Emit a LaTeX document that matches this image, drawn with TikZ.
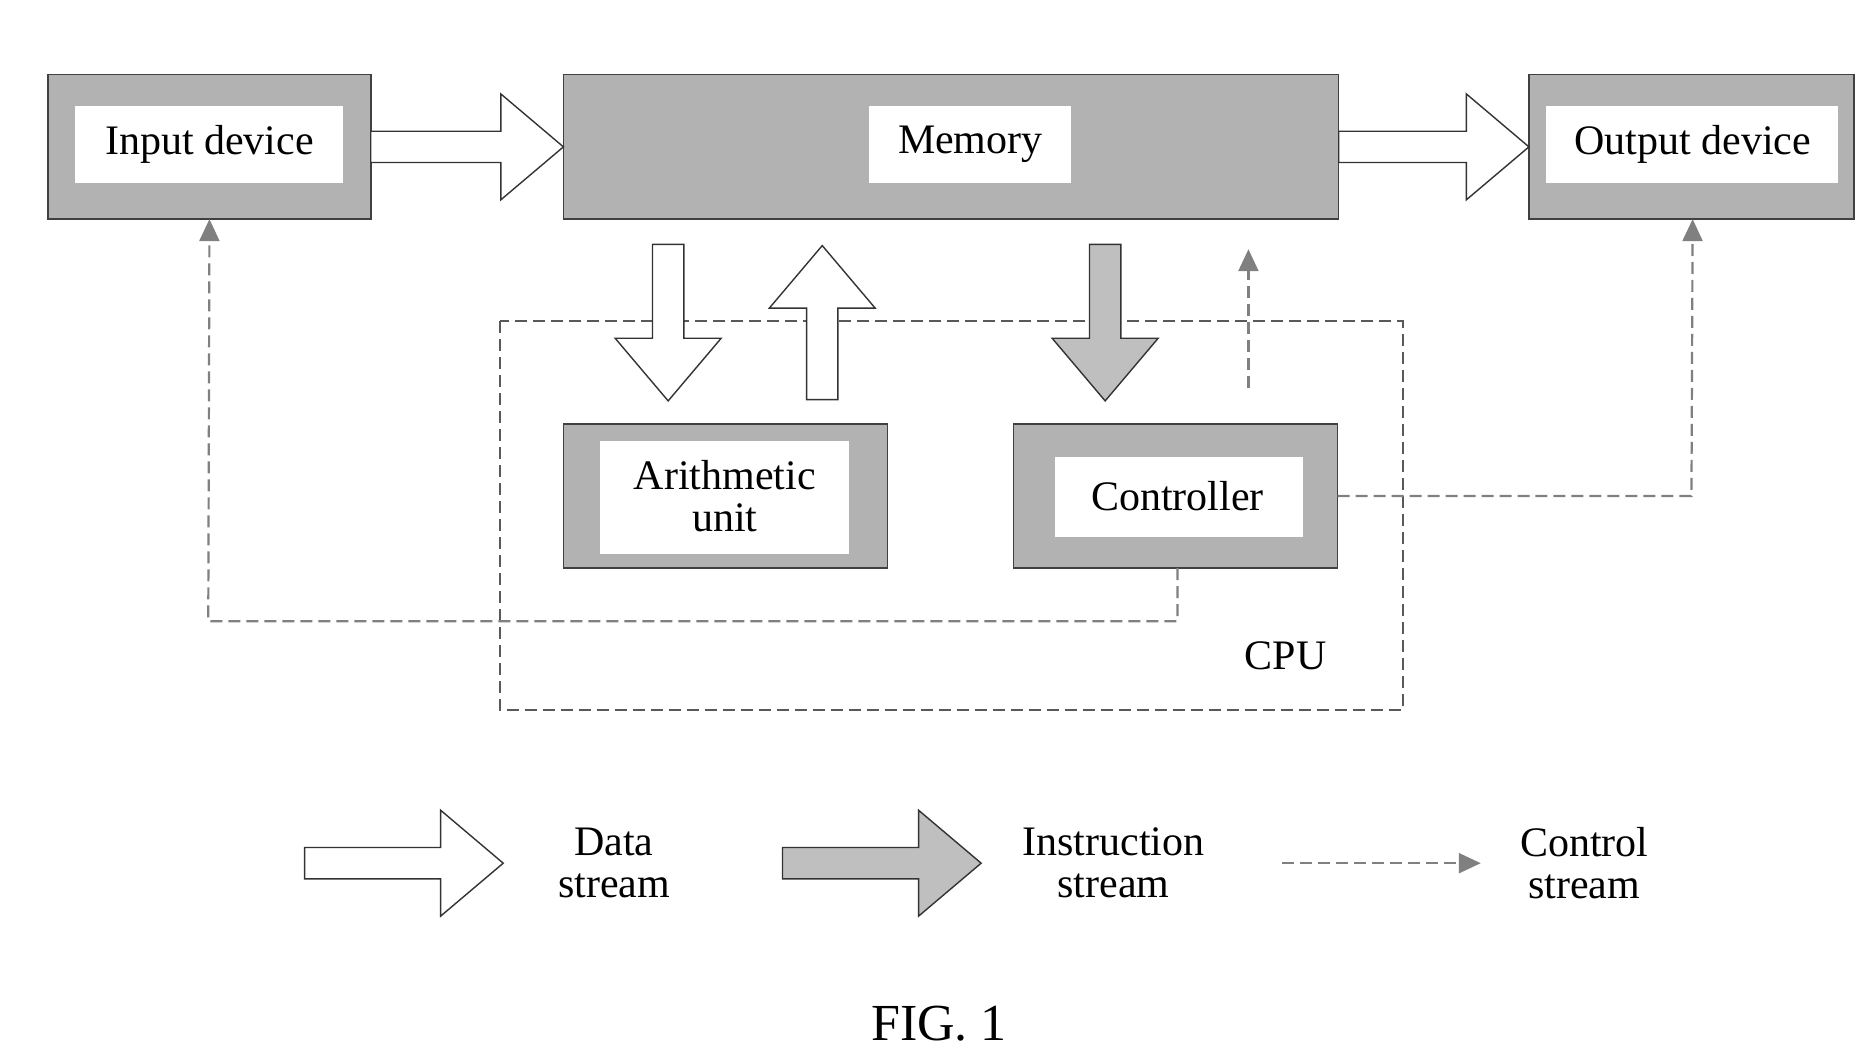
\documentclass[tikz,border=0pt]{standalone}
\usepackage{fontspec}
\setmainfont{Liberation Serif}
\usetikzlibrary{arrows.meta}
\begin{document}
\begin{tikzpicture}[x=1.204pt,y=-1.204pt,
  box/.style={draw=black!75,line width=1.5pt,fill=black!30},
  inner/.style={fill=white,draw=none},
  lab/.style={font=\fontsize{42}{48}\selectfont,align=center},
  data/.style={draw=black!80,line width=1.4pt,fill=white},
  instr/.style={draw=black!80,line width=1.4pt,fill=black!25},
  ctrl/.style={draw=black!50,line width=2.2pt,dash pattern=on 12pt off 6pt},
  ctrltip/.style={-{Triangle[length=22pt,width=20pt,fill=black!50,color=black!50]}}]
\newcommand\fatarrow[4]{%
  \draw[#1,shift={#2},rotate=#3] (0,-13)--(#4-52,-13)--(#4-52,-44)--(#4,0)--(#4-52,44)--(#4-52,13)--(0,13)--cycle;}
\fill[white] (0,0) rectangle (1550,874);
\useasboundingbox (0,0) rectangle (1550,874);
% boxes
\draw[box] (40,62) rectangle (308,182);
\fill[inner] (62,88) rectangle (285,152);
\node[lab] (in) at (174,120) {Input device};
\coordinate (inB) at (174,182);
\draw[box] (468,62) rectangle (1112,182);
\fill[inner] (722,88) rectangle (890,152);
\node[lab] (mem) at (806,120) {Memory};
\draw[box] (1270,62) rectangle (1540,182);
\fill[inner] (1284,88) rectangle (1527,152);
\node[lab] (out) at (1406,120) {Output device};
\coordinate (outB) at (1406,182);
\draw[box] (468,352) rectangle (737,472);
\fill[inner] (498,366) rectangle (705,460);
\node[lab] (alu) at (602,412) {Arithmetic\\[-6pt]unit};
\draw[box] (842,352) rectangle (1111,472);
\fill[inner] (876,380) rectangle (1082,446);
\node[lab] (ctl) at (978,412) {Controller};
\coordinate (ctlB) at (978,472);
\coordinate (ctlR) at (1111,412);
% CPU
\draw[draw=black!65,line width=2pt,dash pattern=on 12pt off 6pt] (415,267) rectangle (1165,590);
\node[lab] (cpu) at (1068,545) {CPU};
% data arrows
\fatarrow{data}{(308,122)}{0}{160}
\fatarrow{data}{(1112,122)}{0}{158}
\fatarrow{data}{(555,203)}{-90}{130}
\fatarrow{data}{(683,332)}{90}{128}
\fatarrow{instr}{(918,203)}{-90}{130}
% control
\draw[ctrl,ctrltip] (1037,322) -- (1037,207);
\draw[ctrl,ctrltip] (ctlB) -- (978,516) -- (173,516) -- (inB);
\draw[ctrl,ctrltip] (ctlR) -- (1405,412) -- (outB);
% legend
\fatarrow{data}{(253,717)}{0}{165}
\node[lab] (l1) at (510,717) {Data\\[-6pt]stream};
\fatarrow{instr}{(650,717)}{0}{165}
\node[lab] (l2) at (925,717) {Instruction\\[-6pt]stream};
\coordinate (c1) at (1065,717); \coordinate (c2) at (1230,717);
\draw[ctrl,ctrltip] (c1) -- (c2);
\node[lab] (l3) at (1316,717) {Control\\[-6pt]stream};
\node[font=\fontsize{52}{58}\selectfont] (fig) at (780,850) {FIG. 1};
\end{tikzpicture}
\end{document}
